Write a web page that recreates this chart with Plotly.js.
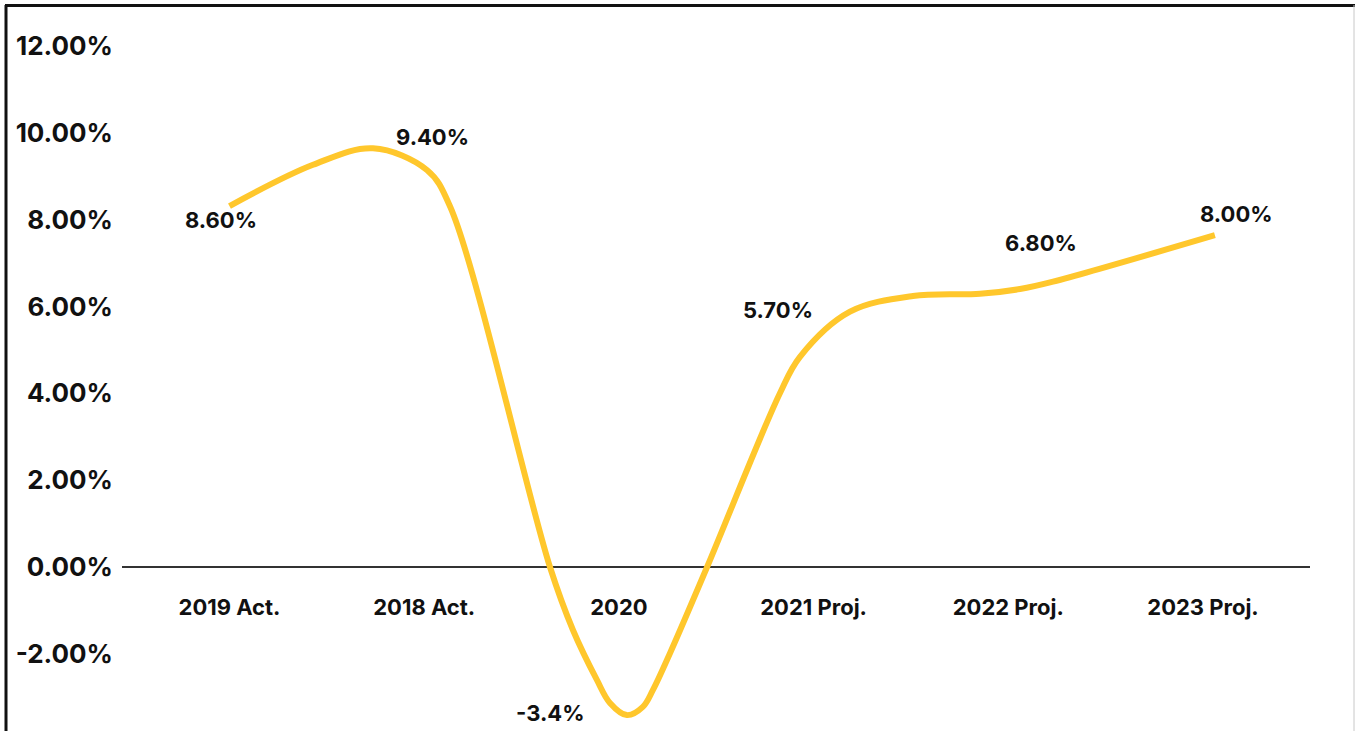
<!DOCTYPE html>
<html>
<head>
<meta charset="utf-8">
<script src="https://cdn.plot.ly/plotly-3.0.1.min.js"></script>
<style>
html,body{margin:0;padding:0;background:#fff;}
#chart{width:1355px;height:731px;}
</style>
</head>
<body>
<div id="chart"></div>
<script>
// ---- data ----
var categories = ["2019 Act.", "2018 Act.", "2020", "2021 Proj.", "2022 Proj.", "2023 Proj."];
var labelValues = [8.6, 9.4, -3.4, 5.7, 6.8, 8.0];
var labelTexts = ["8.60%", "9.40%", "-3.4%", "5.70%", "6.80%", "8.00%"];
// traced path of the drawn (smoothed) line, x in category units, y in percent
var pathX = [0, 0.429, 0.737, 1.014, 1.133, 1.646, 1.764, 1.887, 1.954, 2.041, 2.123, 2.175, 2.263, 2.453, 2.827, 2.930, 3.187, 3.510, 3.855, 4.060, 4.230, 5.061];
var pathY = [8.31, 9.26, 9.64, 9.14, 8.30, 0.0, -1.45, -2.60, -3.13, -3.41, -3.22, -2.83, -1.98, 0.0, 4.0, 4.84, 5.88, 6.24, 6.29, 6.40, 6.57, 7.64];
var yTicks = [-2, 0, 2, 4, 6, 8, 10, 12];

// ---- layout / style ----
var W = 1355, H = 731, ML = 122, MR = 45;
var FONT = 'Inter';
var labelShift = [[-8, -27], [8, 22], [-69, 2], [-36, 9], [33, 29], [34, 6]];

var trace = {
  x: pathX, y: pathY, type: 'scatter', mode: 'lines',
  line: {color: '#FFC72C', width: 6, shape: 'spline', smoothing: 1},
  hoverinfo: 'skip', showlegend: false
};

var annotations = labelTexts.map(function (t, i) {
  return {
    x: i, y: labelValues[i], xref: 'x', yref: 'y', text: t, showarrow: false,
    xshift: labelShift[i][0], yshift: labelShift[i][1],
    font: {family: FONT, size: 22, color: '#111', weight: 700}
  };
});

function px2paperX(p) { return (p - ML) / (W - ML - MR); }
function px2paperY(p) { return 1 - p / H; }

var shapes = [
  {type: 'line', xref: 'paper', yref: 'paper', x0: px2paperX(6), x1: px2paperX(6), y0: px2paperY(5), y1: px2paperY(H + 5), line: {color: '#111', width: 3}},
  {type: 'line', xref: 'paper', yref: 'paper', x0: px2paperX(5), x1: px2paperX(1355), y0: px2paperY(5.5), y1: px2paperY(5.5), line: {color: '#111', width: 3}},
  {type: 'line', xref: 'paper', yref: 'paper', x0: px2paperX(1354), x1: px2paperX(1354), y0: px2paperY(5), y1: px2paperY(H + 5), line: {color: '#c8c8c8', width: 1}}
];

var layout = {
  width: W, height: H,
  margin: {l: ML, r: MR, t: 0, b: 0, pad: 0},
  paper_bgcolor: '#fff', plot_bgcolor: '#fff',
  showlegend: false,
  xaxis: {
    range: [-0.5521, 5.5496], tickvals: categories.map(function (c, i) { return i; }), ticktext: categories,
    showgrid: false, zeroline: false, showline: false, ticks: '',
    anchor: 'free', position: 1 - 567 / H, ticklabelstandoff: 25,
    tickfont: {family: FONT, size: 22, color: '#111', weight: 700}
  },
  yaxis: {
    range: [-3.776, 13.055], tickvals: yTicks, ticktext: yTicks.map(function (v) { return v.toFixed(2) + '%'; }),
    showgrid: false, zeroline: true, zerolinecolor: '#333', zerolinewidth: 1.5,
    showline: false, ticks: '', ticklabelstandoff: 8,
    tickfont: {family: FONT, size: 26, color: '#111', weight: 700}
  },
  annotations: annotations,
  shapes: shapes
};

Plotly.newPlot('chart', [trace], layout, {displayModeBar: false, staticPlot: true});
</script>
</body>
</html>
